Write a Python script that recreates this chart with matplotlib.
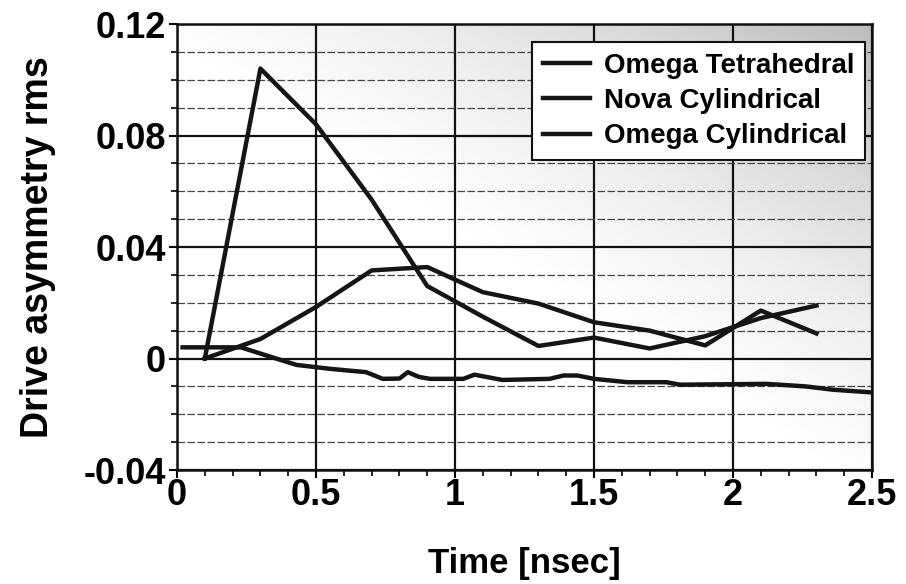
import numpy as np
import matplotlib
matplotlib.use("Agg")
import matplotlib.pyplot as plt
from matplotlib.ticker import MultipleLocator, FixedLocator

# Data
t_omega_tet = [0.02, 0.23, 0.34, 0.43, 0.55, 0.68, 0.74, 0.80, 0.83, 0.87, 0.91, 1.03,
               1.07, 1.17, 1.34, 1.39, 1.44, 1.50, 1.62, 1.76, 1.81, 2.12, 2.26, 2.36, 2.49]
y_omega_tet = [0.004, 0.004, 0.0005, -0.0023, -0.0037, -0.0049, -0.0073, -0.0072, -0.0049,
               -0.0066, -0.0073, -0.0073, -0.0058, -0.0077, -0.0073, -0.0061, -0.0061,
               -0.0073, -0.0085, -0.0085, -0.0094, -0.0091, -0.0100, -0.0112, -0.0121]

t_nova_cyl = [0.1, 0.3, 0.5, 0.7, 0.9, 1.1, 1.3, 1.5, 1.7, 1.9, 2.1, 2.3]
y_nova_cyl = [0.0, 0.104, 0.084, 0.057, 0.026, 0.015, 0.0045, 0.0075, 0.0036, 0.0080, 0.0145, 0.019]

t_omega_cyl = [0.1, 0.3, 0.5, 0.7, 0.9, 1.1, 1.3, 1.5, 1.7, 1.9, 2.1, 2.3]
y_omega_cyl = [0.0, 0.007, 0.0185, 0.0316, 0.0328, 0.0238, 0.0197, 0.013, 0.010, 0.0047, 0.0172, 0.009]

series_names = ["Omega Tetrahedral", "Nova Cylindrical", "Omega Cylindrical"]
x_ticks = [0, 0.5, 1, 1.5, 2, 2.5]
x_tick_labels = ["0", "0.5", "1", "1.5", "2", "2.5"]
y_ticks = [-0.04, 0, 0.04, 0.08, 0.12]
y_tick_labels = ["-0.04", "0", "0.04", "0.08", "0.12"]

plt.rcParams['font.family'] = ['Liberation Sans', 'DejaVu Sans']
plt.rcParams['font.weight'] = 'bold'

fig = plt.figure(figsize=(9.06, 5.84), dpi=100)
ax = fig.add_axes([0.1954, 0.1952, 0.7671, 0.7637])

# faint scanned-paper shading in upper right
gx, gy = np.meshgrid(np.linspace(0, 1, 200), np.linspace(0, 1, 200))
shade = np.clip(0.9 * gx + 0.9 * gy - 0.85, 0, 1) * 0.4
ax.imshow(shade, extent=[0, 2.5, -0.04, 0.12], origin='lower', aspect='auto',
          cmap='Greys', vmin=0, vmax=1, zorder=0, interpolation='bilinear')

ax.set_xlim(0, 2.5)
ax.set_ylim(-0.04, 0.12)

# grid
ax.xaxis.set_major_locator(FixedLocator(x_ticks))
ax.yaxis.set_major_locator(FixedLocator(y_ticks))
ax.xaxis.set_minor_locator(MultipleLocator(0.1))
ax.yaxis.set_minor_locator(MultipleLocator(0.01))
ax.grid(which='major', color='#111111', linewidth=1.6, zorder=1)
ax.grid(which='minor', axis='y', color='#444444', linewidth=0.9, linestyle=(0, (6, 2)), zorder=1)

lw = 3.2
ax.plot(t_omega_tet, y_omega_tet, color='#151515', lw=lw, label=series_names[0], zorder=3)
ax.plot(t_nova_cyl, y_nova_cyl, color='#151515', lw=lw, label=series_names[1], zorder=3)
ax.plot(t_omega_cyl, y_omega_cyl, color='#151515', lw=lw, label=series_names[2], zorder=3)

ax.set_xticklabels(x_tick_labels)
ax.set_yticklabels(y_tick_labels)
ax.tick_params(axis='both', which='major', labelsize=26, width=1.5, length=6, direction='out', pad=2)
ax.tick_params(axis='both', which='minor', width=1.2, length=4, direction='out')
ax.tick_params(axis='x', which='major', pad=0)
for spine in ax.spines.values():
    spine.set_linewidth(1.8)
    spine.set_color('#111111')

ax.set_xlabel("Time [nsec]", fontsize=25, fontweight='bold', labelpad=24)
ax.set_ylabel("Drive asymmetry rms", fontsize=27, fontweight='bold', labelpad=20)

leg = ax.legend(loc='upper right', fontsize=20, frameon=True, fancybox=False,
                handlelength=1.7, handletextpad=0.5, borderpad=0.4, labelspacing=0.33,
                borderaxespad=0, bbox_to_anchor=(0.9905, 0.96), framealpha=1,
                edgecolor='#111111')
leg.get_frame().set_linewidth(1.5)
leg.set_zorder(5)

fig.savefig("out.png", dpi=100)
